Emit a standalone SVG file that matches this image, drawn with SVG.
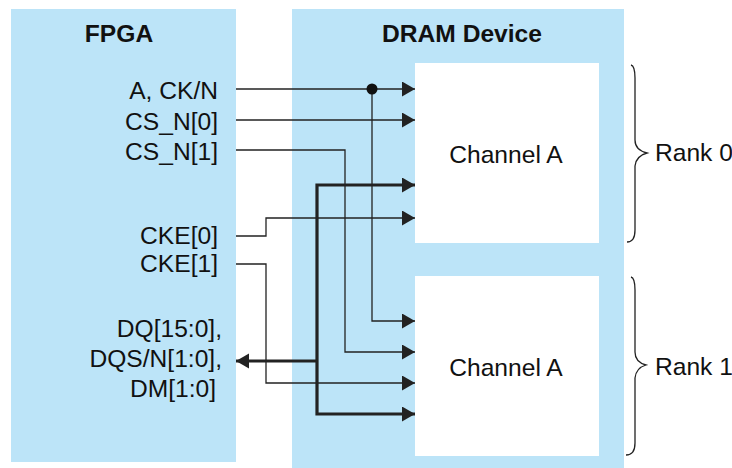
<svg xmlns="http://www.w3.org/2000/svg" width="732" height="468" viewBox="0 0 732 468">
<style>
.blk{fill:#bce4f8}
.ch{fill:#ffffff}
text{font-family:"Liberation Sans",Arial,sans-serif;font-size:24.6px;fill:#111}
.t{font-weight:bold}
.w{fill:none;stroke:#222;stroke-width:1.3}
.bus{fill:none;stroke:#222;stroke-width:3.2}
.br{fill:none;stroke:#222;stroke-width:1.3}
</style>
<defs>
<marker id="ah" markerUnits="userSpaceOnUse" markerWidth="14" markerHeight="16" refX="13" refY="7.5" orient="auto-start-reverse" viewBox="0 0 14 16">
<path d="M0,0 L13,7.5 L0,15 z" fill="#222"/>
</marker>
</defs>
<rect width="732" height="468" fill="#ffffff"/>
<g id="fpga">
<rect class="blk" x="11" y="9" width="225" height="453"/>
<text class="t" x="119" y="42" text-anchor="middle">FPGA</text>
<text x="218" y="99" text-anchor="end">A, CK/N</text>
<text x="218" y="130" text-anchor="end">CS_N[0]</text>
<text x="218" y="160" text-anchor="end">CS_N[1]</text>
<text x="218" y="244" text-anchor="end">CKE[0]</text>
<text x="218" y="272" text-anchor="end">CKE[1]</text>
<text x="222" y="337" text-anchor="end">DQ[15:0],</text>
<text x="222" y="367" text-anchor="end">DQS/N[1:0],</text>
<text x="216" y="397" text-anchor="end">DM[1:0]</text>
</g>
<g id="dram">
<rect class="blk" x="292" y="9" width="332" height="459"/>
<text class="t" x="462" y="42" text-anchor="middle">DRAM Device</text>
</g>
<g id="rank0">
<rect class="ch" x="415" y="63" width="184" height="180"/>
<text x="506" y="163" text-anchor="middle">Channel A</text>
</g>
<g id="rank1">
<rect class="ch" x="415" y="276" width="184" height="180"/>
<text x="506" y="376" text-anchor="middle">Channel A</text>
</g>
<g id="connectors">
<path class="w" d="M236,89 H415" marker-end="url(#ah)"/>
<path class="w" d="M372,89 V321 H415" marker-end="url(#ah)"/>
<circle cx="372" cy="89" r="5.5" fill="#111"/>
<path class="w" d="M236,120 H415" marker-end="url(#ah)"/>
<path class="w" d="M236,150 H345 V352 H415" marker-end="url(#ah)"/>
<path class="w" d="M236,236 H266 V218 H415" marker-end="url(#ah)"/>
<path class="w" d="M236,264 H266 V383 H415" marker-end="url(#ah)"/>
<path class="bus" d="M415,185 H317 V414 H415" marker-start="url(#ah)" marker-end="url(#ah)"/>
<path class="bus" d="M317,361 H236" marker-end="url(#ah)"/>
</g>
<g id="brace0">
<path class="br" d="M631,65 Q635,66 635,78 L635,140 Q635,150 647,153 Q636,156 635,166 L635,230 Q635,242 627,242"/>
<text x="655" y="161">Rank 0</text>
</g>
<g id="brace1">
<path class="br" d="M631,277 Q635,278 635,290 L635,352 Q635,362 646,365 Q636,368 635,378 L635,443 Q635,455 626,455"/>
<text x="655" y="375">Rank 1</text>
</g>
</svg>
